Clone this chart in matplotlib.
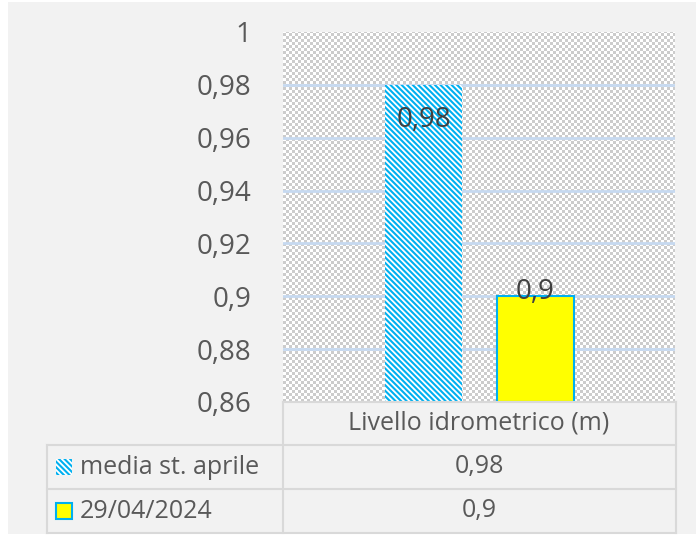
import matplotlib.pyplot as plt
import numpy as np
from matplotlib.colors import ListedColormap
from matplotlib.patches import Rectangle
from matplotlib.lines import Line2D

plt.rcParams["font.family"] = ["Open Sans", "DejaVu Sans"]
plt.rcParams["hatch.linewidth"] = 1.5

CATEGORY = "Livello idrometrico (m)"
SERIES_NAMES = ["media st. aprile", "29/04/2024"]
SERIES_VALUES = [0.98, 0.9]
Y_TICKS = [0.86, 0.88, 0.90, 0.92, 0.94, 0.96, 0.98, 1.0]

TEXT_COLOR = "#595959"
BLUE = "#00b0f0"
YELLOW = "#ffff00"
GRID_COLOR = "#c6d9f0"
TABLE_LINE = "#d9d9d9"
HATCH = "\\\\\\\\\\\\"

W, H = 696, 538


def fx(px):
    return px / W


def fy(py):
    return 1 - py / H


def fmt(v):
    return f"{v:g}".replace(".", ",")


fig = plt.figure(figsize=(W / 100, H / 100), dpi=100)
fig.patch.set_facecolor("white")
fig.patches.append(Rectangle((fx(8), fy(534)), fx(688), 532 / H, transform=fig.transFigure,
                             facecolor="#f2f2f2", edgecolor="none", zorder=-10))

ax_left, ax_right, ax_top, ax_bottom = 283, 675, 32, 402
ax = fig.add_axes([fx(ax_left), fy(ax_bottom), fx(ax_right - ax_left), (ax_bottom - ax_top) / H])
ax.set_facecolor("white")

# checkered plot area background
cell = 3
nx = (ax_right - ax_left) // cell + 1
ny = (ax_bottom - ax_top) // cell + 1
checker = (np.add.outer(np.arange(ny), np.arange(nx)) % 2).astype(float)
ax.imshow(checker, extent=[-0.5, -0.5 + nx * cell / (ax_right - ax_left), 0.86, 0.86 + ny * cell * 0.14 / (ax_bottom - ax_top)],
          cmap=ListedColormap(["#cccccc", "#ffffff"]), interpolation="nearest", aspect="auto", zorder=0,
          origin="lower")

ax.set_xlim(-0.5, 0.5)
ax.set_ylim(0.86, 1.0)

for yv in Y_TICKS[1:-1]:
    ax.axhline(yv, color=GRID_COLOR, linewidth=2.0, zorder=1)

offsets = [-0.141, 0.144]
width = 0.196
ax.bar(offsets[0], SERIES_VALUES[0] - 0.86, bottom=0.86, width=width, facecolor="white",
       edgecolor=BLUE, hatch=HATCH, linewidth=0, zorder=2)
ax.bar(offsets[1], SERIES_VALUES[1] - 0.86, bottom=0.86, width=width, facecolor=YELLOW,
       edgecolor=BLUE, linewidth=1.5, zorder=2)

ax.annotate(fmt(SERIES_VALUES[0]), (offsets[0], SERIES_VALUES[0]), xytext=(0, -25),
            textcoords="offset points", ha="center", va="center", fontsize=20, color="#404040", zorder=3)
ax.annotate(fmt(SERIES_VALUES[1]), (offsets[1], SERIES_VALUES[1]), xytext=(0, 3),
            textcoords="offset points", ha="center", va="center", fontsize=20, color="#404040", zorder=3)

ax.set_yticks(Y_TICKS)
ax.set_yticklabels([fmt(v) for v in Y_TICKS])
ax.tick_params(axis="y", length=0, pad=23, labelsize=20, labelcolor=TEXT_COLOR)
ax.set_xticks([])
for s in ax.spines.values():
    s.set_visible(False)

# data table below the plot
row_y = [402, 445, 489, 533]
col_x = [47, 283, 676]


def hline(x0, x1, y):
    fig.add_artist(Line2D([fx(x0), fx(x1)], [fy(y), fy(y)], color=TABLE_LINE, linewidth=1.5))


def vline(x, y0, y1):
    fig.add_artist(Line2D([fx(x), fx(x)], [fy(y0), fy(y1)], color=TABLE_LINE, linewidth=1.5))


hline(col_x[1], col_x[2], row_y[0])
for y in row_y[1:]:
    hline(col_x[0], col_x[2], y)
vline(col_x[0], row_y[1], row_y[3])
vline(col_x[1], row_y[0], row_y[3])
vline(col_x[2], row_y[0], row_y[3])

fig.text(fx(479), fy((row_y[0] + row_y[1]) / 2), CATEGORY, ha="center", va="center",
         fontsize=18, color=TEXT_COLOR)

for i, (name, val) in enumerate(zip(SERIES_NAMES, SERIES_VALUES)):
    yc = (row_y[i + 1] + row_y[i + 2]) / 2
    fig.text(fx(80), fy(yc), name, ha="left", va="center", fontsize=18, color=TEXT_COLOR)
    fig.text(fx(479), fy(yc), fmt(val), ha="center", va="center", fontsize=18, color=TEXT_COLOR)
    if i == 0:
        key = Rectangle((fx(56), fy(yc + 8)), fx(16), 16 / H, transform=fig.transFigure,
                        facecolor="white", edgecolor=BLUE, hatch=HATCH, linewidth=0)
    else:
        key = Rectangle((fx(56), fy(yc + 8)), fx(16), 16 / H, transform=fig.transFigure,
                        facecolor=YELLOW, edgecolor=BLUE, linewidth=1.5)
    fig.patches.append(key)

fig.savefig("out.png", dpi=100)
